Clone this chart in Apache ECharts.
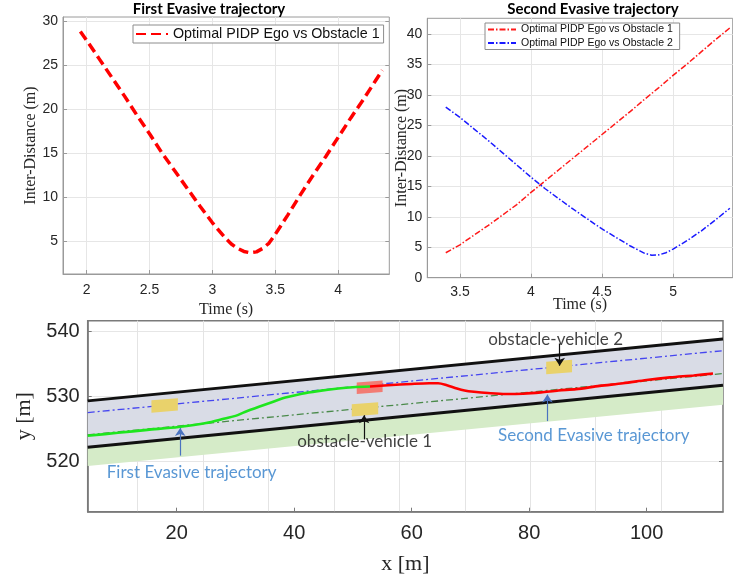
<!DOCTYPE html>
<html><head><meta charset="utf-8">
<script src="https://cdn.jsdelivr.net/npm/echarts@6/dist/echarts.min.js"></script>
<style>html,body{margin:0;padding:0;background:#fff}#c{width:733px;height:581px}</style>
</head><body><div id="c"></div>
<script>
// ---------- Top-left: First evasive trajectory ----------
const t1 = [1.95, 2.0, 2.1, 2.2, 2.3, 2.4, 2.5, 2.6, 2.7, 2.8, 2.9, 3.0, 3.1, 3.15, 3.2, 3.25, 3.3, 3.35, 3.4, 3.45, 3.5, 3.6, 3.7, 3.8, 3.9, 4.0, 4.1, 4.2, 4.3, 4.35];
const d1 = [28.8, 27.8, 25.7, 23.6, 21.5, 19.3, 17.2, 15.0, 13.0, 11.0, 9.0, 7.1, 5.4, 4.7, 4.2, 3.85, 3.7, 3.8, 4.2, 4.8, 5.8, 8.0, 10.3, 12.5, 14.6, 16.8, 19.0, 21.1, 23.3, 24.4];
const t1Ticks = [2, 2.5, 3, 3.5, 4];
const d1Ticks = [5, 10, 15, 20, 25, 30];

// ---------- Top-right: Second evasive trajectory ----------
const t2 = [3.4, 3.5, 3.6, 3.7, 3.8, 3.9, 4.0, 4.1, 4.2, 4.3, 4.4, 4.5, 4.6, 4.7, 4.8, 4.9, 5.0, 5.1, 5.2, 5.3, 5.4];
const d2obs1 = [4.1, 5.4, 7.0, 8.6, 10.3, 12.0, 14.0, 15.9, 17.8, 19.7, 21.6, 23.5, 25.4, 27.3, 29.3, 31.2, 33.2, 35.1, 37.1, 39.1, 41.0];
const t2b = [3.4, 3.5, 3.6, 3.7, 3.8, 3.9, 4.0, 4.1, 4.2, 4.3, 4.4, 4.5, 4.6, 4.7, 4.75, 4.8, 4.85, 4.9, 4.95, 5.0, 5.1, 5.2, 5.3, 5.4];
const d2obs2 = [28.0, 26.3, 24.4, 22.5, 20.5, 18.5, 16.5, 14.6, 12.9, 11.2, 9.6, 8.0, 6.6, 5.2, 4.6, 4.0, 3.7, 3.75, 4.1, 4.7, 6.1, 7.7, 9.5, 11.4];
const t2Ticks = [3.5, 4, 4.5, 5];
const d2Ticks = [0, 5, 10, 15, 20, 25, 30, 35, 40];

// ---------- Bottom: road scene ----------
const roadX = [4.85, 113];
const roadUpper = [529.3, 538.8];
const roadLower = [522.2, 531.7];
const greenLower = [519.3, 528.7];
const laneUpperCenter = [527.5, 537.0];
const laneLowerCenter = [524.1, 533.5];

const egoFirstX = [4.85, 10, 15, 20.3, 25, 28.2, 30, 31.6, 34, 36.2, 38.5, 41.3, 44, 47.5, 50, 52.9];
const egoFirstY = [523.95, 524.4, 524.85, 525.3, 525.9, 526.6, 527.0, 527.6, 528.4, 529.1, 529.8, 530.4, 530.8, 531.2, 531.4, 531.5];
const egoSecondX = [52.9, 56, 60, 63, 64.5, 66, 67.7, 69, 70.6, 73, 76, 79, 82, 85, 88, 92, 96, 100, 104, 108, 111.3];
const egoSecondY = [531.5, 531.7, 531.9, 532.0, 532.0, 531.7, 531.2, 530.9, 530.7, 530.5, 530.35, 530.4, 530.6, 530.9, 531.1, 531.6, 532.0, 532.5, 532.9, 533.2, 533.5];

const vehX = [17.95, 52.05, 52.85, 85.1];
const vehY = [528.6, 528.0, 531.4, 534.5];
const vehLen = [4.5, 4.5, 4.4, 4.4];
const vehWid = [1.9, 1.85, 1.75, 1.9];

const arrowX = [20.6, 83.1, 51.9, 85.2];
const arrowTailY = [520.9, 526.2, 523.4, 538.1];
const arrowTipY = [525.15, 530.26, 527.1, 534.7];

const noteText = ['First Evasive trajectory', 'obstacle-vehicle 1', 'Second Evasive trajectory', 'obstacle-vehicle 2'];
const noteX = [22.55, 52.0, 91.0, 84.5];
const noteY = [518.3, 523.0, 524.0, 538.7];

const xTicks3 = [20, 40, 60, 80, 100];
const yTicks3 = [520, 530, 540];
const xGrid3 = [10, 20, 30, 40, 50, 60, 70, 80, 90];

// ---------- styles ----------
const SERIF = "'Liberation Serif', 'DejaVu Serif', serif";
const SANS = "'Liberation Sans', Arial, sans-serif";
const CAL = "Lato, 'Open Sans', sans-serif";
const vehColor = ['#e9d26b', '#e9d26b', '#f27c74', '#e9d26b'];
const noteColor = ['#2f7dc9', '#111', '#2f7dc9', '#111'];
const arrowColor = ['#4a72c0', '#4a72c0', '#111', '#111'];

const zip = (a, b) => a.map((v, i) => [v, b[i]]);

function axis(o) {
  const c = o.color || '#9a9a9a';
  return {
    type: 'value', gridIndex: o.grid, min: o.min, max: o.max, position: o.position,
    show: true, z: o.z,
    axisLine: { show: o.line !== false, onZero: false, lineStyle: { color: c, width: o.lw || 1 } },
    axisTick: { show: o.tick !== false, inside: true, length: o.tl || 4, customValues: o.ticks, lineStyle: { color: c } },
    axisLabel: { show: o.label !== false, customValues: o.ticks, color: '#262626', fontSize: o.fs || 14, fontFamily: SANS, margin: o.margin || 6 },
    splitLine: { show: !!o.split, lineStyle: { color: o.splitColor || '#e6e6e6', width: 1 } },
    name: o.name, nameLocation: 'middle', nameGap: o.gap, nameMoveOverlap: false,
    nameTextStyle: { fontFamily: SERIF, fontSize: o.nfs || 16, color: '#262626' }
  };
}

function band(top, bot, color) {
  return {
    type: 'custom', xAxisIndex: 2, yAxisIndex: 2, z: 1, silent: true,
    data: [[roadX[0], top[0]]],
    renderItem: (p, api) => {
      const pts = roadX.map((x, i) => api.coord([x, top[i]]))
        .concat(roadX.map((x, i) => api.coord([x, bot[i]])).reverse());
      return { type: 'polygon', shape: { points: pts }, style: { fill: color } };
    }
  };
}

const chart = echarts.init(document.getElementById('c'));
chart.setOption({
  animation: false,
  backgroundColor: '#fff',
  grid: [
    { left: 63, top: 17, width: 326.3, height: 257, show: true, borderColor: '#9a9a9a', borderWidth: 1, backgroundColor: '#fff' },
    { left: 427.3, top: 18.3, width: 305.4, height: 259.4, show: true, borderColor: '#9a9a9a', borderWidth: 1, backgroundColor: '#fff' },
    { left: 87.7, top: 320.7, width: 635.3, height: 191, show: true, borderColor: '#7a7a7a', borderWidth: 1.5, backgroundColor: '#fff' }
  ],
  xAxis: [
    axis({ grid: 0, min: 1.812, max: 4.406, ticks: t1Ticks, split: true, name: 'Time (s)', gap: 28, margin: 9 }),
    axis({ grid: 1, min: 3.27, max: 5.42, ticks: t2Ticks, split: true, name: 'Time (s)', gap: 19, margin: 7 }),
    axis({ grid: 2, min: 4.85, max: 113, ticks: xTicks3, name: 'x [m]', gap: 42, fs: 20, nfs: 22, margin: 12, color: '#7a7a7a', lw: 1.5 }),
    axis({ grid: 2, min: 2.356, max: 99.48, ticks: xGrid3, split: true, line: false, tick: false, label: false, splitColor: '#e4e4e4' })
  ],
  yAxis: [
    axis({ grid: 0, min: 1.29, max: 30.45, ticks: d1Ticks, split: true, name: 'Inter-Distance (m)', gap: 24, margin: 5 }),
    axis({ grid: 1, min: 0, max: 42.58, ticks: d2Ticks, split: true, name: 'Inter-Distance (m)', gap: 18, margin: 5 }),
    axis({ grid: 2, min: 512.3, max: 541.6, ticks: yTicks3, split: true, name: 'y [m]', gap: 52, fs: 20, nfs: 22, margin: 8, color: '#7a7a7a', lw: 1.5 }),
    axis({ grid: 0, min: 1.29, max: 30.45, ticks: d1Ticks, position: 'right', line: false, label: false }),
    axis({ grid: 2, min: 512.3, max: 541.6, ticks: yTicks3, position: 'right', line: false, label: false, color: '#7a7a7a' })
  ],
  legend: [
    {
      data: ['Optimal PIDP Ego vs Obstacle 1'], left: 133, top: 25, padding: [2, 4, 2, 2],
      itemWidth: 32, itemHeight: 14, borderColor: '#8c8c8c', borderWidth: 1, backgroundColor: '#fff',
      itemStyle: { opacity: 0 },
      textStyle: { fontSize: 14.3, fontFamily: SANS, color: '#111' }, selectedMode: false
    },
    {
      data: ['Optimal PIDP Ego vs Obstacle 1 ', 'Optimal PIDP Ego vs Obstacle 2'], left: 485, top: 23, orient: 'vertical',
      itemGap: 2.5, padding: [1, 4, 1, 2], itemWidth: 28, itemHeight: 12, borderColor: '#8c8c8c', borderWidth: 1, backgroundColor: '#fff',
      itemStyle: { opacity: 0 },
      textStyle: { fontSize: 10.5, fontFamily: SANS, color: '#111' }, selectedMode: false
    }
  ],
  graphic: [
    { type: 'text', x: 209, y: 9, style: { text: 'First Evasive trajectory', align: 'center', verticalAlign: 'middle', fontFamily: CAL, fontWeight: 'bold', fontSize: 15, fill: '#000' } },
    { type: 'text', x: 593, y: 9, style: { text: 'Second Evasive trajectory', align: 'center', verticalAlign: 'middle', fontFamily: CAL, fontWeight: 'bold', fontSize: 15, fill: '#000' } }
  ],
  series: [
    {
      name: 'Optimal PIDP Ego vs Obstacle 1', type: 'line', xAxisIndex: 0, yAxisIndex: 0, data: zip(t1, d1),
      symbol: 'none', lineStyle: { color: '#ff0000', width: 3.5, type: [10, 5] }, itemStyle: { color: '#ff0000' }
    },
    {
      name: 'Optimal PIDP Ego vs Obstacle 1 ', type: 'line', xAxisIndex: 1, yAxisIndex: 1, data: zip(t2, d2obs1),
      symbol: 'none', lineStyle: { color: '#ff1a1a', width: 1.5, type: [6, 2, 1.5, 2] }, itemStyle: { color: '#ff1a1a' }
    },
    {
      name: 'Optimal PIDP Ego vs Obstacle 2', type: 'line', xAxisIndex: 1, yAxisIndex: 1, data: zip(t2b, d2obs2),
      symbol: 'none', lineStyle: { color: '#1a1aff', width: 1.5, type: [6, 2, 1.5, 2] }, itemStyle: { color: '#1a1aff' }
    },
    band(roadUpper, roadLower, '#d9dce6'),
    band(roadLower, greenLower, '#d5ebc8'),
    {
      type: 'line', xAxisIndex: 2, yAxisIndex: 2, z: 2, symbol: 'none', silent: true, data: zip(roadX, laneUpperCenter),
      lineStyle: { color: '#4646f0', width: 1.3, type: [7, 3, 2, 3] }
    },
    {
      type: 'line', xAxisIndex: 2, yAxisIndex: 2, z: 2, symbol: 'none', silent: true, data: zip(roadX, laneLowerCenter),
      lineStyle: { color: '#4a8a4a', width: 1.3, type: [7, 3, 2, 3] }
    },
    {
      type: 'line', xAxisIndex: 2, yAxisIndex: 2, z: 3, symbol: 'none', silent: true, data: zip(roadX, roadUpper),
      lineStyle: { color: '#111', width: 3 }
    },
    {
      type: 'line', xAxisIndex: 2, yAxisIndex: 2, z: 3, symbol: 'none', silent: true, data: zip(roadX, roadLower),
      lineStyle: { color: '#111', width: 3 }
    },
    {
      type: 'custom', xAxisIndex: 2, yAxisIndex: 2, z: 4, silent: true,
      data: vehX.map((x, i) => [x, vehY[i], vehLen[i], vehWid[i]]),
      encode: { x: 0, y: 1 },
      renderItem: (p, api) => {
        const x = api.value(0), y = api.value(1), L = api.value(2), W = api.value(3), s = 0.07;
        const pts = [[x - L / 2, y - W / 2 - s * L / 2], [x + L / 2, y - W / 2 + s * L / 2],
                     [x + L / 2, y + W / 2 + s * L / 2], [x - L / 2, y + W / 2 - s * L / 2]].map(c => api.coord(c));
        return { type: 'polygon', shape: { points: pts }, style: { fill: vehColor[p.dataIndex] } };
      }
    },
    {
      type: 'line', xAxisIndex: 2, yAxisIndex: 2, z: 5, symbol: 'none', silent: true, data: zip(egoFirstX, egoFirstY),
      smooth: 0.3, lineStyle: { color: '#1ee61e', width: 2.6 }
    },
    {
      type: 'line', xAxisIndex: 2, yAxisIndex: 2, z: 5, symbol: 'none', silent: true, data: zip(egoSecondX, egoSecondY),
      smooth: 0.3, lineStyle: { color: '#ff0000', width: 2.6 }
    },
    {
      type: 'line', xAxisIndex: 2, yAxisIndex: 2, z: 6, silent: true, data: [],
      itemStyle: { color: '#111' },
      markLine: {
        silent: true, symbol: ['none', 'arrow'], symbolSize: 8, label: { show: false },
        data: arrowX.map((x, i) => [
          { coord: [x, arrowTailY[i]], lineStyle: { color: arrowColor[i], width: 1.2, type: 'solid' }, itemStyle: { color: arrowColor[i] } },
          { coord: [x, arrowTipY[i]] }
        ])
      }
    },
    {
      type: 'scatter', xAxisIndex: 2, yAxisIndex: 2, z: 6, silent: true, symbolSize: 1,
      itemStyle: { color: 'rgba(0,0,0,0)' },
      data: noteX.map((x, i) => ({ value: [x, noteY[i]], name: noteText[i],
        label: { color: noteColor[i] } })),
      label: { show: true, position: 'inside', formatter: '{b}', fontFamily: CAL, fontSize: 17, align: 'center', verticalAlign: 'middle' }
    }
  ]
});
</script>
</body></html>
